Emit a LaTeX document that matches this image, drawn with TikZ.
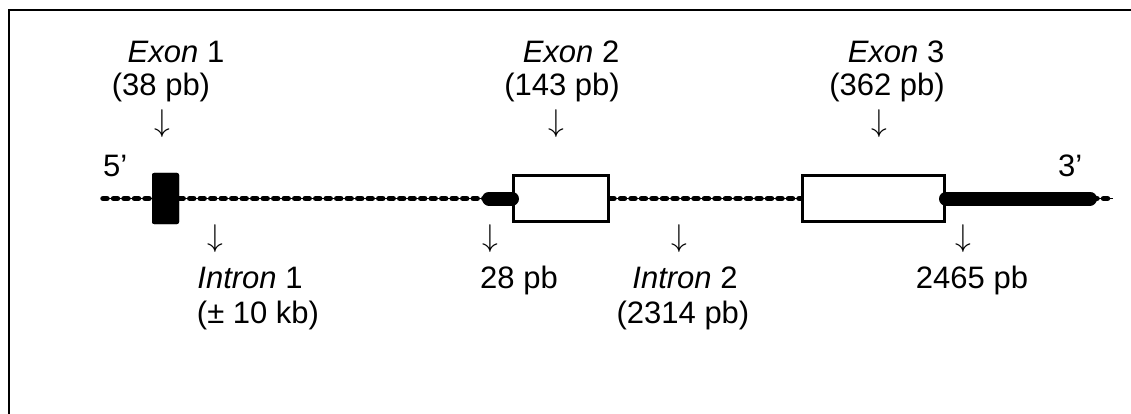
\documentclass[tikz,border=0pt]{standalone}
\usepackage{graphicx}
\usepackage{fontspec}
\setmainfont{Liberation Sans}
\newcommand{\dnglyph}{\resizebox*{!}{28pt}{$\downarrow$}}
\begin{document}
\begin{tikzpicture}[x=1pt,y=-1pt,
  lbl/.style={inner sep=0pt, anchor=base, font=\fontsize{31}{36}\selectfont},
  dnarrow/.style={inner sep=0pt, anchor=base},
  exonbox/.style={draw=black, line width=3pt, fill=white, inner sep=0pt, minimum height=46pt},
  exonfill/.style={fill=black, rounded corners=2pt, inner sep=0pt, minimum width=27pt, minimum height=51pt},
  introncore/.style={line width=1.5pt},
  intronbeads/.style={line width=5.5pt, line cap=round, dash pattern=on 4pt off 6.5pt},
  utr/.style={line width=14pt, line cap=round},
  framebox/.style={line width=2.5pt}
]
\useasboundingbox (0,0) rectangle (1131,414);
\clip (0,0) rectangle (1131,414);
\draw[framebox] (9,10) rectangle (1150,440);

% gene elements
\coordinate (gstart) at (103,198.5);
\coordinate (gend) at (1113,198.5);
\node[exonfill] (ex1) at (165.5,198.5) {};
\node[exonbox, minimum width=95pt] (ex2) at (561,198.5) {};
\node[exonbox, minimum width=142pt] (ex3) at (873.5,198.5) {};
\coordinate (pa1) at (489,198.5);
\coordinate (pb2) at (1090,198.5);

% intron lines (beaded)
\foreach \a/\b in {gstart/ex1.west, ex1.east/ex2.west, ex2.east/ex3.west, ex3.east/gend}{
  \draw[introncore] (\a) -- (\b);
  \draw[intronbeads] (\a) -- (\b);
}
% redraw boxes over lines
\node[exonfill] at (165.5,198.5) {};
\node[exonbox, minimum width=95pt] at (561,198.5) {};
\node[exonbox, minimum width=142pt] at (873.5,198.5) {};
% UTRs
\draw[utr] (pa1) -- (ex2.west);
\draw[utr] (ex3.east) -- (pb2);

% end labels
\node[lbl, anchor=base west] (p5) at (103,176) {5’};
\node[lbl, anchor=base west] (p3) at (1058,176) {3’};

% top labels
\node[lbl] (t1a) at (176,63) {\textit{Exon} 1};
\node[lbl] (t1b) at (161,96) {(38 pb)};
\node[dnarrow] (t1c) at (162,132) {\dnglyph};
\node[lbl] (t2a) at (571,63) {\textit{Exon} 2};
\node[lbl] (t2b) at (562,96) {(143 pb)};
\node[dnarrow] (t2c) at (556,132) {\dnglyph};
\node[lbl] (t3a) at (896,63) {\textit{Exon} 3};
\node[lbl] (t3b) at (887,96) {(362 pb)};
\node[dnarrow] (t3c) at (879,132) {\dnglyph};

% bottom labels
\node[dnarrow] (b1c) at (215,246) {\dnglyph};
\node[lbl] (b1a) at (250,288) {\textit{Intron} 1};
\node[lbl] (b1b) at (258,323) {(± 10 kb)};
\node[dnarrow] (b2c) at (490,246) {\dnglyph};
\node[lbl] (b2a) at (519,288) {28 pb};
\node[dnarrow] (b3c) at (679,246) {\dnglyph};
\node[lbl] (b3a) at (685,288) {\textit{Intron} 2};
\node[lbl] (b3b) at (683,323) {(2314 pb)};
\node[dnarrow] (b4c) at (963,246) {\dnglyph};
\node[lbl] (b4a) at (972,288) {2465 pb};
\end{tikzpicture}
\end{document}
